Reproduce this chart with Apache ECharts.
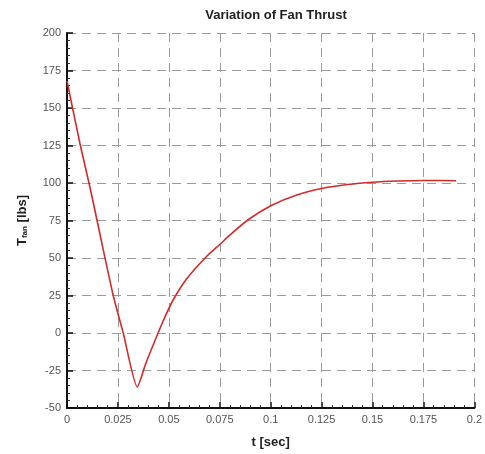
<!DOCTYPE html>
<html><head><meta charset="utf-8">
<script src="https://cdn.jsdelivr.net/npm/echarts@6/dist/echarts.min.js"></script>
<style>html,body{margin:0;padding:0;background:#fff}#c{width:485px;height:454px}</style>
</head><body><div id="c"></div>
<script>
const timeSec = [0, 0.0064, 0.0113, 0.016, 0.0227, 0.0276, 0.0345, 0.0385, 0.0423, 0.0472, 0.0521, 0.0587, 0.0685, 0.075, 0.0799, 0.0889, 0.1003, 0.1128, 0.1256, 0.1378, 0.150, 0.1625, 0.1747, 0.191];
const thrustLbs = [168, 126, 97, 67, 25, 0, -36, -21, -8, 8, 22, 36, 51, 59, 65.2, 75.5, 85, 92, 96.5, 99, 100.5, 101.3, 101.7, 101.5];
const xTicks = [0, 0.025, 0.05, 0.075, 0.1, 0.125, 0.15, 0.175, 0.2];
const yTicks = [-50, -25, 0, 25, 50, 75, 100, 125, 150, 175, 200];

const chart = echarts.init(document.getElementById('c'));
const font = 'Liberation Sans, Arial, sans-serif';
const dashed = {show: true, lineStyle: {color: '#9a9a9a', type: [9, 6], width: 1}};
chart.setOption({
  animation: false,
  title: {text: 'Variation of Fan Thrust', left: 271, textAlign: 'center', top: 4,
    textStyle: {fontFamily: font, fontSize: 13, fontWeight: 'bold', color: '#222'}},
  grid: {left: 67, right: 10, top: 33, bottom: 46, containLabel: false},
  xAxis: {type: 'value', min: xTicks[0], max: xTicks[xTicks.length - 1], interval: 0.025,
    name: 't [sec]', nameLocation: 'middle', nameGap: 28,
    nameTextStyle: {fontFamily: font, fontSize: 13, fontWeight: 'bold', color: '#222'},
    axisLine: {show: true, onZero: false, lineStyle: {color: '#111', width: 2}},
    axisTick: {show: true, inside: true, length: 6, lineStyle: {color: '#111', width: 1.5}},
    minorTick: {show: true, splitNumber: 5, length: 3, lineStyle: {color: '#333'}},
    axisLabel: {fontFamily: font, fontSize: 11, color: '#555', margin: 6,
      formatter: v => String(+v.toFixed(3))},
    splitLine: dashed},
  yAxis: {type: 'value', min: yTicks[0], max: yTicks[yTicks.length - 1], interval: 25,
    name: '{a|T}{b|fan}{a| [lbs]}', nameLocation: 'middle', nameGap: 38, nameRotate: 90,
    nameTextStyle: {rich: {
      a: {fontFamily: font, fontSize: 13, fontWeight: 'bold', color: '#222'},
      b: {fontFamily: font, fontSize: 8, fontWeight: 'bold', color: '#222', verticalAlign: 'bottom', padding: [6, 0, 0, 0]}}},
    axisLine: {show: true, onZero: false, lineStyle: {color: '#111', width: 2}},
    axisTick: {show: true, inside: true, length: 6, lineStyle: {color: '#111', width: 1.5}},
    minorTick: {show: true, splitNumber: 5, length: 3, lineStyle: {color: '#333'}},
    axisLabel: {fontFamily: font, fontSize: 11, color: '#555', margin: 6},
    splitLine: dashed},
  series: [{type: 'line', data: timeSec.map((t, i) => [t, thrustLbs[i]]),
    showSymbol: false, smooth: 0.2, lineStyle: {color: '#d42a2a', width: 1.6}}]
});
</script></body></html>
